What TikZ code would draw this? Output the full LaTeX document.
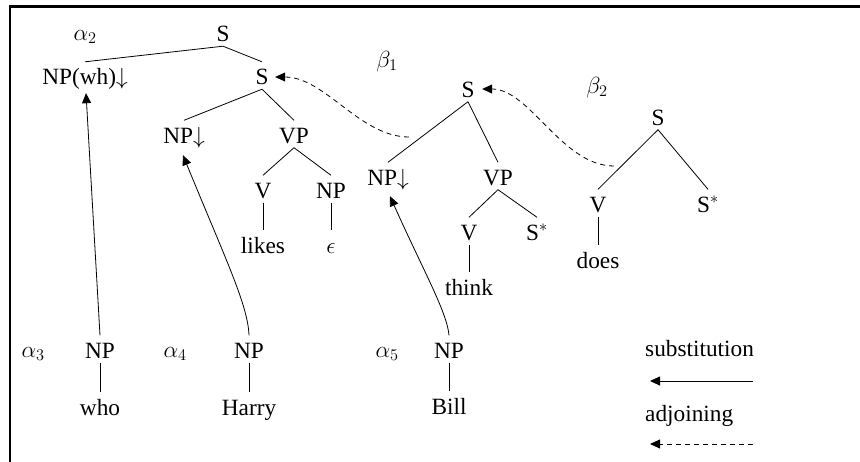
\RequirePackage{fix-cm}
\documentclass[tikz,border=0pt]{standalone}
\usepackage{fontspec}
\setmainfont{Liberation Serif}
\usetikzlibrary{arrows.meta}
\begin{document}
\begin{tikzpicture}[x=1pt,y=-1pt,
  every node/.style={font=\fontsize{23.3}{28}\selectfont},
  lab/.style={inner sep=0pt, anchor=base},
  tn/.style={inner sep=0pt, anchor=base, text height=22.5pt, text depth=4.5pt},
  edge/.style={line width=0.8pt},
  subst/.style={line width=0.8pt, -{Triangle[length=10pt,width=9pt]}},
  adjn/.style={subst, dash pattern=on 5pt off 4pt}]
\useasboundingbox (0,0) rectangle (860,461);

% frame
\draw[line width=2.5pt, line join=miter] (10,470) -- (10,6.3) -- (870,6.3);

% alpha_2: initial tree for the wh-question
\node[lab] (a2) at (85,40) {$\alpha_2$};
\node[tn] (s0) at (223,41.5) {S};
\node[tn] (npwh) at (85,84.5) {NP(wh)$\downarrow$};
\node[tn] (s1) at (262,84.5) {S};
\node[tn] (np1) at (184,143) {NP$\downarrow$};
\node[tn] (vp1) at (294,143) {VP};
\node[tn] (v1) at (263,198) {V};
\node[tn] (np2) at (331,198) {NP};
\node[tn] (likes) at (263,253) {likes};
\node[tn] (eps) at (331,253) {$\epsilon$};

\draw[edge] (s0.south) -- (npwh.north);
\draw[edge] (s0.south) -- (s1.north);
\draw[edge] (s1.south) -- (np1.north);
\draw[edge] (s1.south) -- (vp1.north);
\draw[edge] (vp1.south) -- (v1.north);
\draw[edge] (vp1.south) -- (np2.north);
\draw[edge] (v1.south) -- (likes.north);
\draw[edge] (np2.south) -- (eps.north);

% beta_1: auxiliary tree for "think"
\node[lab] (b1) at (387,67) {$\beta_1$};
\node[tn] (bs) at (468,97) {S};
\node[tn] (bnp) at (388,185) {NP$\downarrow$};
\node[tn] (bvp) at (498,185) {VP};
\node[tn] (bv) at (469,240) {V};
\node[tn] (bst) at (537,240) {S$^*$};
\node[tn] (think) at (469,295) {think};

\draw[edge] (bs.south) -- (bnp.north);
\draw[edge] (bs.south) -- (bvp.north);
\draw[edge] (bvp.south) -- (bv.north);
\draw[edge] (bvp.south) -- (bst.north);
\draw[edge] (bv.south) -- (think.north);

% beta_2: auxiliary tree for "does"
\node[lab] (b2) at (597,93) {$\beta_2$};
\node[tn] (cs) at (658,125) {S};
\node[tn] (cv) at (598,212) {V};
\node[tn] (cst) at (708,212) {S$^*$};
\node[tn] (does) at (598,268) {does};

\draw[edge] (cs.south) -- (cv.north);
\draw[edge] (cs.south) -- (cst.north);
\draw[edge] (cv.south) -- (does.north);

% initial NP trees
\node[lab] (a3) at (33,357) {$\alpha_3$};
\node[tn] (npw) at (100,358) {NP};
\node[tn] (who) at (100,415) {who};
\node[lab] (a4) at (175,357) {$\alpha_4$};
\node[tn] (nph) at (249,358) {NP};
\node[tn] (harry) at (249,415) {Harry};
\node[lab] (a5) at (387,357) {$\alpha_5$};
\node[tn] (npb) at (449,358) {NP};
\node[tn] (bill) at (449,414) {Bill};

\draw[edge] (npw.south) -- (who.north);
\draw[edge] (nph.south) -- (harry.north);
\draw[edge] (npb.south) -- (bill.north);

% substitution arrows
\draw[subst] (npw.north) -- ([xshift=1pt,yshift=-4pt]npwh.south);
\draw[subst] (nph.north) .. controls (248,305) and (225,258) .. ([xshift=-1pt,yshift=-7.5pt]np1.south);
\draw[subst] (npb.north) .. controls (447,312) and (423,270) .. ([xshift=2pt,yshift=-6.5pt]bnp.south);

% adjoining arrows
\coordinate (j1) at (409,137);
\draw[adjn] (j1) .. controls (360,137) and (325,77) .. ([xshift=6.5pt,yshift=-1.5pt]s1.east);
\coordinate (j2) at (614,166);
\draw[adjn] (j2) .. controls (562,166) and (530,89) .. ([xshift=7.5pt,yshift=-1pt]bs.east);

% legend
\node[lab, anchor=base west] (sub) at (645,356.5) {substitution};
\node[lab, anchor=base west] (adj) at (645,421) {adjoining};
\coordinate (l1a) at (753,381);
\coordinate (l1b) at (650,381);
\coordinate (l2a) at (753,444);
\coordinate (l2b) at (650,444);
\draw[subst] (l1a) -- (l1b);
\draw[adjn] (l2a) -- (l2b);
\end{tikzpicture}
\end{document}
